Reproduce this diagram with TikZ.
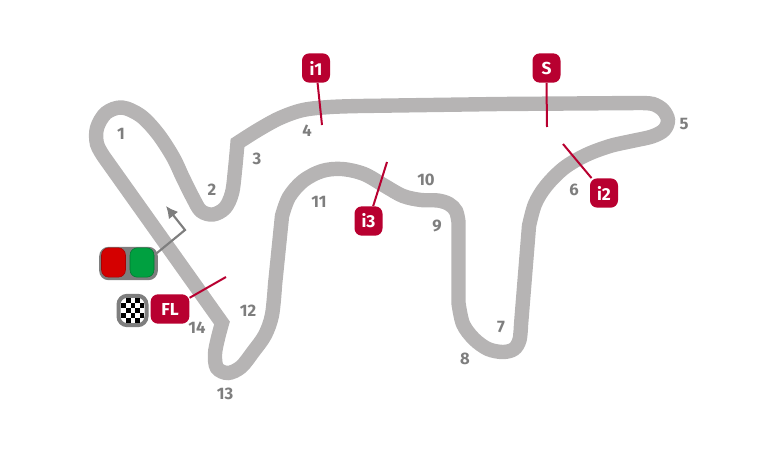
\documentclass[tikz,border=0pt]{standalone}
\usepackage{fontspec}
\setmainfont{Fira Sans}
\usepackage{tikz}
\usetikzlibrary{arrows.meta}
\definecolor{trackgray}{HTML}{B6B4B4}
\definecolor{labelgray}{HTML}{7E7E7E}
\definecolor{pinred}{HTML}{B80030}
\definecolor{lampred}{HTML}{D40000}
\definecolor{lampgreen}{HTML}{00A040}
\tikzset{
  track/.style={draw=trackgray, line width=10.8pt, line join=miter, miter limit=3},
  turn/.style={text=labelgray, font=\fontsize{12.5}{12.5}\selectfont\bfseries},
  pin/.style={fill=pinred, text=white, rounded corners=5.5pt, minimum width=21pt,
    minimum height=22pt, inner sep=0pt, font=\fontsize{13}{13}\selectfont\bfseries},
  pinline/.style={draw=pinred, line width=1.5pt},
  lamp/.style={rounded corners=5.5pt, minimum width=18pt, minimum height=22pt, inner sep=0pt},
  curve/.style={smooth, tension=.55},
}
\begin{document}
\begin{tikzpicture}[x=.75pt, y=-.75pt]
    \useasboundingbox (0,0) rectangle (763,464);
    % circuit
    \draw[track] (500,104)
      -- (640,103)
      -- plot[curve] coordinates {
        (640,103) (653,104) (663,110) (668,120) (664,130) (652,136.5) (632,141)
        (610,146) (586,155) (564,168) (546,186) (535,204) (529,226)
      }
      -- (521,325)
      -- plot[curve] coordinates {
        (521,325) (519.5,340) (514,349) (503,352) (488,349) (474,339) (463,324) (458.5,303)
      }
      -- (458.5,222)
      -- plot[curve] coordinates {
        (458.5,222) (456,211) (449,204) (438,200.5) (421,200) (403,196) (385,186)
        (364,174) (342,169) (322,171) (303,181) (289,197) (282,216)
      }
      -- (275,285)
      -- plot[curve] coordinates {
        (275,285) (272,315) (265,335) (253,352) (241,367) (228,373) (217,368)
        (215,354) (218,338) (222,323)
      }
      -- (104,157)
      -- plot[curve] coordinates {
        (104,157) (97,144) (97,128) (106,113) (122,107.5) (141,116) (158,134)
        (173,157) (183,178) (193,198) (201,211) (213,214.5) (225,208) (232,193)
        (235,170) (237.5,143)
      }
      -- plot[curve] coordinates {
        (237.5,143) (258,130) (280,118) (303,110) (330,107) (360,106)
      }
      -- cycle;
    % turn numbers
    \foreach \n/\x/\y in {
      1/121/134, 2/212/190, 3/257/159, 4/307/131, 5/684/124, 6/574/190, 7/501/327,
      8/465/359, 9/437/226, 10/426/180, 11/319/202, 12/248/311, 13/225/394, 14/197/328
    }{
      \node[turn] (turn\n) at (\x,\y) {\n};
    }
    % sector pins
    \coordinate (i1end) at (322,125);
    \coordinate (Send) at (547,127);
    \coordinate (i2end) at (563,144);
    \coordinate (i3end) at (387,162);
    \coordinate (FLend) at (226,277);
    \node[pin] (i1) at (316,68) {i1};
    \node[pin] (S) at (546.5,68) {S};
    \node[pin] (i2) at (604,193) {i2};
    \node[pin] (i3) at (368.5,221) {i3};
    \node[pin, minimum width=29pt] (FL) at (170,309) {FL};
    \draw[pinline] (i1) -- (i1end);
    \draw[pinline] (S.south) -- (Send);
    \draw[pinline] (i2) -- (i2end);
    \draw[pinline] (i3) -- (i3end);
    \draw[pinline] (FL) -- (FLend);
    % start lights
    \node[fill=labelgray, rounded corners=7pt, minimum width=44pt, minimum height=25pt,
      inner sep=0pt] (lights) at (128.5,263.5) {};
    \node[lamp, fill=lampred, draw=lampred!80!black, line width=.4pt] (redlamp) at (113.5,262.5) {};
    \node[lamp, fill=lampgreen, draw=lampgreen!75!black, line width=.4pt] (greenlamp) at (142,262.5) {};
    \coordinate (bend) at (185,230);
    \coordinate (tip) at (166,206);
    \draw[labelgray, line width=1.6pt, -{Latex[length=9pt,width=9pt]}] (lights.east) ++(-3,-9) -- (bend) -- (tip);
    % chequered flag
    \node[fill=white, draw=labelgray, line width=3pt, rounded corners=6.5pt, minimum width=21pt,
      minimum height=22pt, inner sep=0pt] (flag) at (132.5,310.5) {};
    \begin{scope}
      \clip[rounded corners=4pt] (121,298) rectangle (144.5,323);
      \foreach \col/\row in {
        1/0, 3/0, 0/1, 2/1, 4/1, 1/2, 3/2, 0/3, 2/3, 4/3, 1/4, 3/4
      }{
        \fill[black] (121+\col*4.8,298+\row*5) rectangle ++(4.8,5);
      }
    \end{scope}
  \end{tikzpicture}
\end{document}
